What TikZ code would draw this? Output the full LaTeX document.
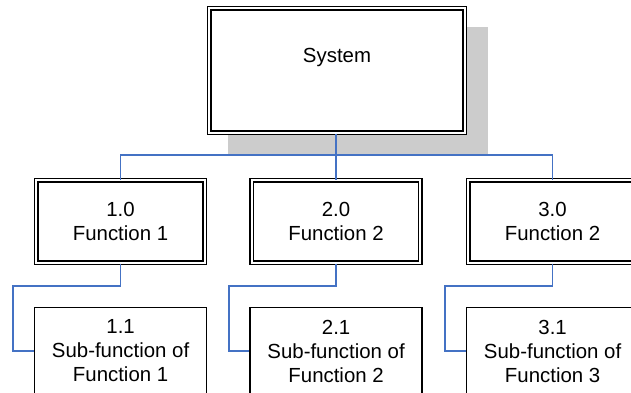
\documentclass[tikz,border=0pt]{standalone}
\usepackage{fontspec}
\setmainfont{Liberation Sans}
\definecolor{linkblue}{HTML}{4472C4}
\definecolor{shadowgray}{HTML}{CCCCCC}
\begin{document}
\begin{tikzpicture}[x=1pt,y=-1pt,
  every node/.style={font=\fontsize{20.4}{24}\selectfont, align=center, inner sep=0pt},
  conn/.style={draw=linkblue, line width=1.5pt},
  dbox/.style={draw=black, fill=white, double=white, line width=1.4pt, double distance=2pt},
  topbox/.style={dbox, minimum width=255.6pt, minimum height=124.6pt},
  funcbox/.style={dbox, minimum width=168.6pt, minimum height=82.6pt},
  subbox/.style={draw=black, fill=white, line width=1.4pt, minimum width=172pt, minimum height=87.4pt},
]
\useasboundingbox (0,0) rectangle (631,393);
\clip (0,0) rectangle (631,393);
\fill[white] (0,0) rectangle (631,393);

% drop shadow behind the system box
\fill[shadowgray] (228,27) rectangle (488,155);

% boxes
\node[topbox] (sys) at (337,70.5) {};
\node (systitle) at (337,57) {System};

\node[funcbox] (f1) at (120.5,221.5) {1.0\\Function 1};
\node[funcbox] (f2) at (336,221.5) {2.0\\Function 2};
\node[funcbox] (f3) at (552.5,221.5) {3.0\\Function 2};

\node[subbox] (s1) at (120.6,351) {1.1\\Sub-function of\\Function 1};
\node[subbox] (s2) at (336.1,351) {2.1\\Sub-function of\\Function 2};
\node[subbox] (s3) at (552.6,351) {3.1\\Sub-function of\\Function 3};

% connectors
\coordinate (bus) at (0,155);
\coordinate (k1) at (13,286);
\coordinate (k2) at (229,286);
\coordinate (k3) at (445,286);

\draw[conn] (f1.north) |- (bus -| f3.north) -- (f3.north);
\draw[conn] (sys.south -| f2.north) -- (f2.north);

\draw[conn] (f1.south) |- (k1) |- (s1.west);
\draw[conn] (f2.south) |- (k2) |- (s2.west);
\draw[conn] (f3.south) |- (k3) |- (s3.west);
\end{tikzpicture}
\end{document}
